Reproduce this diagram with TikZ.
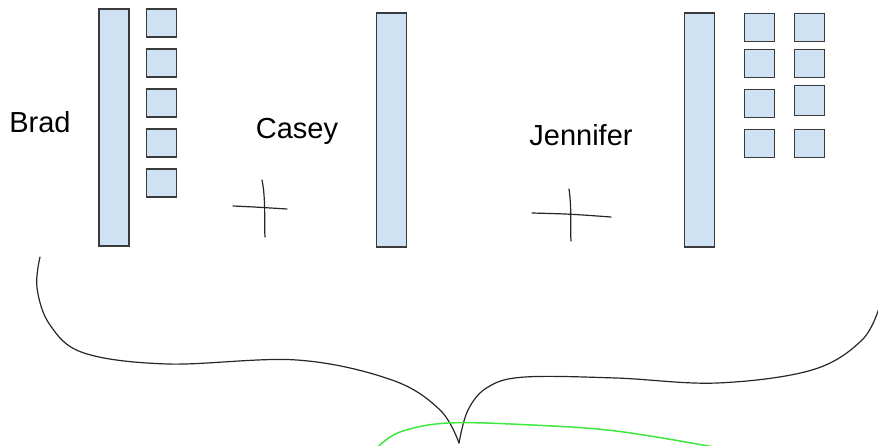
\documentclass[tikz,border=0pt]{standalone}
\usepackage{fontspec}
\setmainfont{Liberation Sans}
\usetikzlibrary{positioning}
\definecolor{boxblue}{HTML}{CFE2F3}
\definecolor{boxline}{HTML}{3A3A3A}
\definecolor{pen}{HTML}{262626}
\definecolor{marker}{HTML}{3EE83E}
\tikzset{
	bar/.style={draw=boxline,fill=boxblue,line width=1.6pt,inner sep=0pt,minimum width=30pt,minimum height=234pt},
	sq/.style={draw=boxline,fill=boxblue,line width=1.6pt,inner sep=0pt,minimum width=30pt,minimum height=28pt},
	person/.style={font=\fontsize{29}{34}\selectfont,inner sep=0pt},
	stroke/.style={draw=pen,line width=1.2pt,line cap=round}
}

\begin{document}
\begin{tikzpicture}[x=1pt,y=-1pt]
	\useasboundingbox (0,0) rectangle (878,445);
	\draw node (brad)[person] at (40,122) {Brad};
	\draw node (casey)[person] at (297,131) {Casey};
	\draw node (jennifer)[person] at (581,135) {Jennifer};
	\draw node (bradbar)[bar,minimum height=237pt] at (114,127.5) {};
	\draw node (caseybar)[bar] at (391.5,130) {};
	\draw node (jenbar)[bar] at (699.5,130) {};
	\draw node (b1)[sq] at (161.5,23) {};
	\draw node (b2)[sq,below=10.4pt of b1] {};
	\draw node (b3)[sq,below=10.4pt of b2] {};
	\draw node (b4)[sq,below=10.4pt of b3] {};
	\draw node (b5)[sq,below=10.4pt of b4] {};
	\draw node (j1)[sq] at (759.5,27.5) {};
	\draw node (j2)[sq,below=6.4pt of j1] {};
	\draw node (j3)[sq,below=10.4pt of j2] {};
	\draw node (j4)[sq,below=10.4pt of j3] {};
	\draw node (k1)[sq] at (809.5,27.5) {};
	\draw node (k2)[sq,below=6.4pt of k1] {};
	\draw node (k3)[sq,below=6.4pt of k2,minimum height=30pt] {};
	\draw node (k4)[sq,below=12.4pt of k3] {};
	% hand drawn marks
	\draw[stroke] (233,206) .. controls (255,207) .. (287,209);
	\draw[stroke] (262,180) .. controls (266,200) and (264,220) .. (265,237);
	\draw[stroke] (532,213) .. controls (570,214) .. (611,217);
	\draw[stroke] (569,189) .. controls (572,210) and (570,225) .. (571,241);
	\draw[stroke] plot[smooth,tension=0.6] coordinates {(40,257) (37,288) (50,325) (84,353) (168,364) (297,360) (392,380) (440,410) (459,443)};
	\draw[stroke] plot[smooth,tension=0.6] coordinates {(459,443) (468,410) (488,387) (525,377) (616,378) (717,383) (812,370) (862,340) (880,305)};
	\draw[draw=marker,line width=1.5pt] plot[smooth,tension=0.6] coordinates {(378,447) (400,432) (448,423) (532,425) (616,431) (714,447)};
\end{tikzpicture}
\end{document}
